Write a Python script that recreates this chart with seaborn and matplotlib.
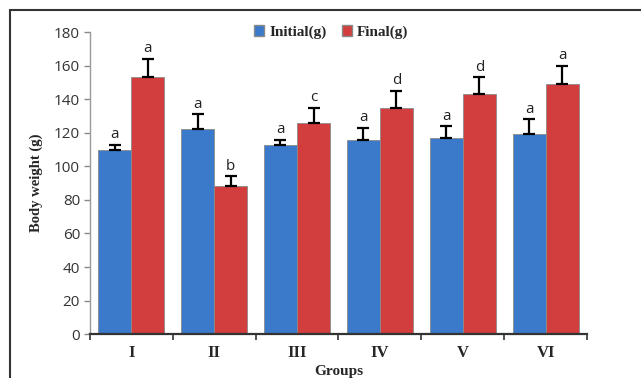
import numpy as np
import pandas as pd
import matplotlib
matplotlib.use("Agg")
import matplotlib.pyplot as plt
import matplotlib.patches as mpatches
from matplotlib.ticker import MultipleLocator, FixedLocator
import seaborn as sns

# data
groups = ["I", "II", "III", "IV", "V", "VI"]
initial = [110, 122, 113, 116, 117, 119]
final = [153, 88, 126, 135, 143, 149]
initial_err = [3, 9, 3, 7, 7, 9]
final_err = [11, 6, 9, 10, 10, 11]
initial_letters = ["a", "a", "a", "a", "a", "a"]
final_letters = ["a", "b", "c", "d", "d", "a"]

sns.set_style("white")
serif = ["Liberation Serif", "DejaVu Serif"]
sans = ["Open Sans", "DejaVu Sans"]

df = pd.DataFrame({
    "Group": groups * 2,
    "Weight": initial + final,
    "Period": ["Initial(g)"] * len(groups) + ["Final(g)"] * len(groups),
})

fig = plt.figure(figsize=(6.41, 3.78), dpi=100)
ax = fig.add_axes([0.140, 0.116, 0.776, 0.799])

blue = "#3b7acb"
red = "#d23e3e"
sns.barplot(data=df, x="Group", y="Weight", hue="Period", palette=[blue, red],
            errorbar=None, width=0.8, saturation=1, ax=ax, legend=False,
            edgecolor="#8a8a8a", linewidth=0.6)

# error bars (upper only) and letters
for cont, errs, letters in zip(ax.containers, [initial_err, final_err],
                               [initial_letters, final_letters]):
    for bar, e, lab in zip(cont.patches, errs, letters):
        xc = bar.get_x() + bar.get_width() / 2
        h = bar.get_height()
        ax.errorbar(xc, h, yerr=[[0], [e]], fmt="none", ecolor="black",
                    elinewidth=1.6, capsize=4, capthick=1.6)
        ax.text(xc, h + e + 1.5, lab, ha="center", va="bottom",
                fontsize=11, family=sans, color="#222222")

ax.set_ylim(0, 180)
ax.set_xlim(-0.5, len(groups) - 0.5)
ax.yaxis.set_major_locator(MultipleLocator(20))
ax.set_xticks(range(len(groups)))
ax.set_xticklabels(groups, family=serif, fontweight="bold", fontsize=12)
ax.xaxis.set_minor_locator(FixedLocator(np.arange(-0.5, len(groups), 1)))
ax.tick_params(axis="x", which="major", length=0, pad=8)
ax.tick_params(axis="x", which="minor", length=4, width=1.2, color="#333333",
               direction="out", bottom=True)
ax.tick_params(axis="y", length=4, width=1, color="#888888", direction="out",
               left=True, labelsize=11, labelcolor="#333333", pad=3)
for t in ax.get_yticklabels():
    t.set_family(sans)

for s in ["top", "right"]:
    ax.spines[s].set_visible(False)
ax.spines["left"].set_color("#999999")
ax.spines["left"].set_linewidth(1)
ax.spines["bottom"].set_color("#333333")
ax.spines["bottom"].set_linewidth(1.6)

ax.set_ylabel("Body weight (g)", family=serif, fontweight="bold", fontsize=10.5,
              labelpad=8)
ax.set_xlabel("Groups", family=serif, fontweight="bold", fontsize=11,
              labelpad=3)

handles = [mpatches.Patch(facecolor=blue, edgecolor="#8a8a8a", label="Initial(g)"),
           mpatches.Patch(facecolor=red, edgecolor="#8a8a8a", label="Final(g)")]
ax.legend(handles=handles, loc="center", bbox_to_anchor=(0.485, 1.0), ncol=2,
          frameon=False, handlelength=0.7, handleheight=0.7, handletextpad=0.3,
          columnspacing=1.0, prop={"family": serif, "weight": "bold", "size": 11})

# outer frame of the original figure
frame = mpatches.Rectangle((10 / 641, -0.2), 1.2, 1.2 - 10 / 378,
                           transform=fig.transFigure, fill=False,
                           edgecolor="#333333", linewidth=1.5, clip_on=False)
fig.patches.append(frame)

fig.savefig("out.png", dpi=100)
